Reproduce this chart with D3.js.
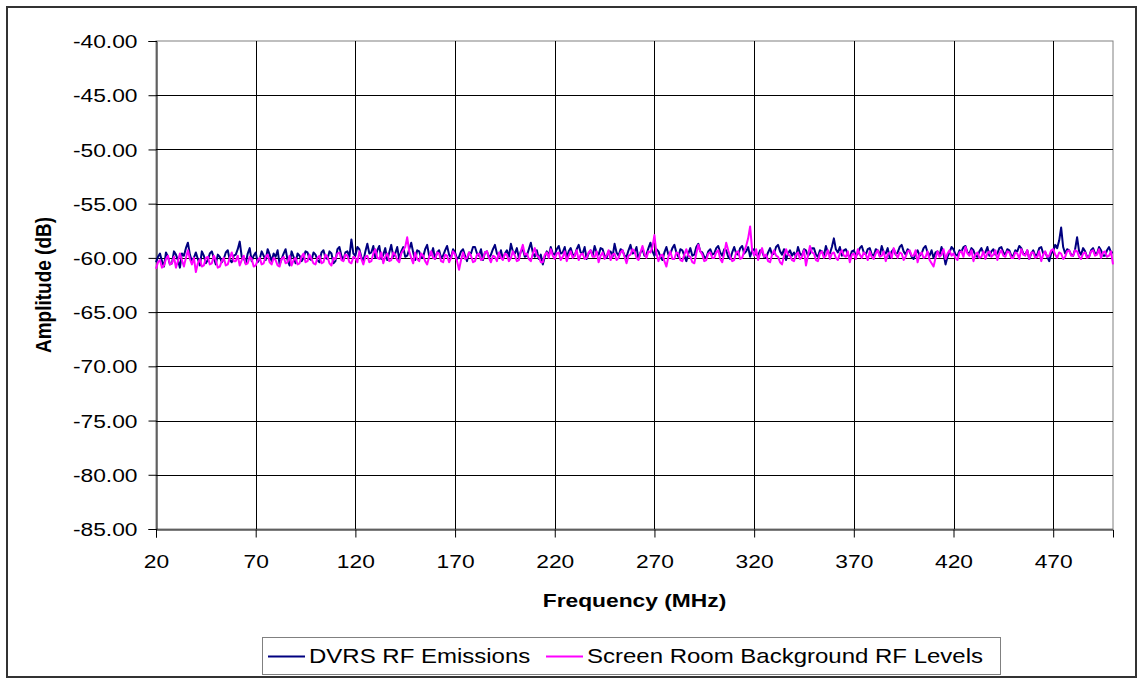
<!DOCTYPE html>
<html>
<head>
<meta charset="utf-8">
<script src="https://cdn.jsdelivr.net/npm/d3@7"></script>
<style>
  body { margin: 0; background: #fff; }
  text { font-family: "Liberation Sans", Arial, sans-serif; fill: #000; }
</style>
</head>
<body>
<script>
const W = 1143
const H = 679
const sx = 1.2 // text in the picture is stretched sideways

// one reading per MHz, 20 .. 500
const startFreq = 20
const stepFreq = 1

const dvrs = [
  -60.4,-59.9,-59.6,-60.3,-60.8,-59.5,-59.9,-60.6,-60.5,-59.4,-59.7,-60.2,-60.9,-59.6,-59.8,-59.1,-58.6,-59.7,-60.3,-60.0,
  -59.5,-60.1,-60.7,-59.4,-59.8,-60.5,-60.2,-59.6,-59.4,-60.0,-60.6,-59.7,-59.9,-60.4,-60.1,-59.5,-59.3,-60.2,-60.4,-59.8,
  -59.7,-59.2,-58.5,-59.9,-60.0,-60.5,-59.6,-59.1,-60.3,-59.8,-59.5,-60.4,-60.1,-59.4,-59.8,-60.2,-59.2,-59.7,-60.3,-59.6,
  -59.9,-59.3,-60.6,-60.1,-59.6,-59.2,-60.2,-60.7,-59.4,-59.9,-60.5,-59.6,-59.8,-60.3,-60.0,-59.4,-59.5,-60.1,-60.2,-59.5,
  -59.7,-60.2,-60.4,-59.5,-59.3,-60.0,-60.1,-59.4,-59.6,-60.5,-60.3,-59.2,-59.0,-59.8,-60.2,-59.5,-59.4,-59.9,-58.3,-59.6,
  -59.8,-59.0,-59.2,-59.9,-60.3,-59.4,-58.7,-59.6,-59.5,-58.9,-60.0,-59.3,-58.9,-60.1,-59.7,-59.1,-60.2,-59.5,-58.8,-59.9,
  -59.6,-59.0,-60.1,-59.4,-59.0,-59.9,-59.8,-59.2,-58.6,-59.5,-60.2,-59.3,-59.4,-60.0,-59.9,-59.2,-58.8,-59.8,-59.7,-59.1,
  -60.1,-59.5,-59.3,-60.0,-59.8,-59.3,-58.9,-59.7,-60.0,-59.2,-59.5,-60.1,-59.9,-59.4,-59.2,-59.8,-60.3,-59.5,-59.6,-59.0,
  -59.0,-59.6,-59.8,-59.2,-60.2,-59.5,-59.4,-60.0,-59.7,-59.2,-58.8,-59.6,-59.9,-59.3,-60.1,-59.6,-59.3,-59.9,-58.7,-59.4,
  -59.6,-59.1,-60.0,-59.4,-59.2,-59.9,-59.8,-59.2,-58.6,-59.5,-59.9,-59.3,-60.1,-59.7,-60.6,-59.9,-59.4,-59.8,-59.0,-59.6,
  -59.7,-59.2,-58.9,-59.6,-59.5,-59.0,-60.0,-59.4,-59.1,-59.7,-59.8,-59.2,-58.8,-59.5,-59.6,-59.0,-60.1,-59.6,-59.3,-59.8,
  -58.9,-59.5,-59.7,-59.1,-59.2,-59.8,-60.0,-59.4,-59.4,-59.9,-58.7,-59.5,-59.8,-59.2,-59.3,-59.8,-59.9,-59.3,-58.8,-59.6,
  -59.5,-59.0,-60.1,-59.5,-59.2,-59.8,-59.7,-59.1,-58.6,-59.4,-59.8,-59.2,-59.4,-59.9,-60.2,-59.5,-59.0,-59.7,-59.6,-59.1,
  -58.8,-59.5,-59.9,-59.2,-59.3,-59.8,-60.3,-59.6,-59.1,-59.8,-59.7,-59.0,-58.7,-59.4,-59.5,-59.9,-60.0,-59.4,-59.2,-59.7,
  -59.6,-59.1,-58.9,-59.5,-59.8,-59.2,-59.3,-59.9,-60.1,-59.5,-59.0,-59.6,-59.7,-59.1,-58.9,-59.6,-59.4,-59.0,-59.9,-59.3,
  -59.2,-59.7,-59.8,-59.3,-59.4,-59.9,-60.0,-59.5,-59.1,-59.7,-59.6,-59.0,-58.8,-59.4,-59.7,-59.2,-60.2,-59.6,-59.3,-59.8,
  -59.5,-59.9,-59.0,-59.6,-59.8,-59.2,-59.3,-59.8,-59.6,-59.1,-59.1,-59.7,-59.9,-59.3,-59.4,-59.8,-58.9,-59.5,-59.6,-59.0,
  -58.2,-59.2,-59.5,-59.0,-59.8,-59.3,-59.2,-59.7,-60.0,-59.4,-59.3,-59.8,-59.6,-59.1,-58.9,-59.5,-59.7,-59.2,-59.1,-59.7,
  -59.8,-59.2,-59.3,-59.8,-58.9,-59.5,-59.6,-59.1,-60.0,-59.4,-59.2,-59.7,-59.5,-59.0,-58.8,-59.4,-59.7,-59.2,-59.4,-59.9,
  -60.1,-59.6,-59.3,-59.8,-59.6,-59.1,-58.9,-59.5,-59.8,-59.3,-60.0,-59.5,-59.4,-59.8,-59.0,-59.6,-60.6,-59.9,-59.5,-59.0,
  -59.2,-59.7,-59.8,-59.3,-59.4,-59.0,-58.9,-59.5,-59.6,-59.1,-59.3,-59.8,-59.9,-59.4,-59.1,-59.6,-59.5,-59.0,-59.8,-59.4,
  -59.2,-59.7,-59.6,-59.1,-59.0,-59.5,-59.7,-59.2,-59.3,-59.8,-59.8,-59.3,-59.4,-58.9,-59.1,-59.6,-59.7,-59.3,-60.1,-59.6,
  -59.3,-59.8,-59.7,-59.1,-59.0,-59.6,-59.5,-59.9,-60.3,-59.6,-59.4,-58.8,-59.1,-58.4,-57.2,-59.0,-59.6,-59.2,-59.3,-59.7,
  -59.8,-59.2,-58.1,-59.4,-59.7,-59.1,-59.4,-59.9,-59.9,-59.3,-59.1,-59.6,-59.6,-59.0,-59.3,-59.8,-59.8,-59.3,-59.0,-59.5,
  -59.5
]

const background = [
  -61.0,-60.4,-60.2,-60.9,-60.7,-60.1,-59.8,-60.6,-60.5,-59.9,-60.9,-60.3,-59.6,-60.2,-60.8,-60.0,-59.3,-60.1,-60.6,-60.0,
  -61.3,-60.5,-60.1,-60.8,-60.7,-60.0,-59.9,-60.6,-60.5,-59.8,-60.2,-60.9,-60.8,-60.3,-60.0,-60.7,-60.6,-60.0,-59.5,-60.3,
  -60.3,-59.8,-60.7,-60.2,-59.8,-60.6,-60.5,-59.9,-60.1,-60.8,-60.7,-60.2,-60.0,-60.6,-60.5,-59.9,-59.7,-60.4,-60.6,-60.0,
  -60.2,-60.7,-60.8,-60.1,-59.9,-60.5,-60.4,-59.8,-60.7,-60.2,-60.0,-60.6,-60.5,-59.9,-59.6,-60.4,-60.3,-59.7,-60.1,-60.5,
  -60.6,-60.0,-59.8,-60.5,-60.4,-59.7,-59.9,-60.5,-60.7,-60.0,-60.1,-59.6,-59.5,-60.2,-60.3,-59.7,-59.8,-60.4,-60.5,-59.9,
  -60.0,-60.4,-59.4,-60.1,-60.6,-59.9,-59.8,-60.4,-60.3,-59.6,-59.2,-60.0,-60.1,-59.5,-60.5,-59.9,-59.6,-60.3,-60.2,-59.5,
  -59.7,-60.2,-60.4,-59.6,-59.3,-59.0,-58.1,-59.4,-60.0,-60.5,-59.5,-60.1,-60.3,-59.6,-59.8,-60.3,-60.6,-59.9,-59.4,-60.0,
  -60.1,-59.5,-59.6,-60.3,-60.4,-59.7,-59.8,-60.4,-60.0,-59.4,-59.7,-60.3,-61.1,-60.2,-59.5,-60.1,-60.0,-59.5,-59.8,-60.4,
  -60.3,-59.7,-59.6,-60.2,-60.1,-59.5,-59.4,-60.0,-60.4,-59.8,-59.9,-60.3,-59.5,-60.0,-60.2,-59.6,-59.7,-60.3,-60.0,-59.4,
  -59.8,-60.3,-60.2,-59.4,-58.8,-59.7,-59.6,-60.1,-60.3,-59.6,-59.1,-59.8,-59.9,-60.4,-60.4,-59.7,-59.5,-60.0,-59.2,-59.8,
  -60.1,-59.6,-59.5,-60.2,-59.9,-59.4,-60.3,-59.8,-59.4,-60.0,-59.8,-59.3,-60.2,-59.7,-59.6,-60.1,-60.0,-59.5,-59.3,-59.9,
  -59.9,-59.4,-60.4,-59.8,-59.5,-60.1,-59.8,-59.3,-60.2,-59.7,-59.6,-60.2,-60.0,-59.5,-59.3,-59.9,-60.5,-59.8,-59.7,-59.2,
  -59.4,-60.0,-60.2,-59.5,-58.9,-59.6,-60.0,-59.4,-59.5,-59.0,-57.9,-59.6,-60.3,-59.8,-59.7,-60.3,-60.8,-59.9,-59.4,-60.1,
  -60.1,-59.5,-59.6,-60.2,-60.3,-59.7,-59.2,-59.8,-59.9,-60.4,-60.5,-59.6,-58.8,-59.4,-59.7,-60.3,-60.2,-59.6,-59.5,-60.0,
  -60.0,-59.5,-59.3,-60.1,-60.4,-59.6,-58.6,-59.3,-59.9,-60.3,-60.2,-59.5,-59.4,-60.1,-60.0,-59.4,-58.9,-58.2,-57.1,-59.3,
  -59.8,-59.2,-60.2,-59.6,-59.1,-59.9,-59.7,-60.3,-60.4,-59.7,-59.3,-59.8,-59.9,-60.4,-60.6,-59.8,-59.2,-59.7,-59.8,-60.2,
  -60.3,-59.7,-59.5,-60.1,-59.9,-59.3,-60.7,-59.8,-58.9,-59.5,-59.6,-60.2,-60.3,-59.6,-59.4,-60.0,-59.8,-59.3,-60.1,-59.6,
  -59.5,-60.0,-60.2,-59.6,-59.3,-59.8,-59.9,-59.4,-60.4,-59.7,-59.6,-60.1,-59.2,-59.7,-60.0,-59.5,-59.7,-60.2,-59.4,-59.9,
  -60.1,-59.6,-59.3,-59.9,-59.8,-59.4,-60.3,-59.7,-59.5,-60.0,-59.1,-59.6,-60.0,-59.5,-59.6,-60.2,-59.9,-59.4,-59.3,-59.8,
  -59.8,-59.3,-60.4,-59.7,-59.5,-60.0,-59.9,-59.4,-60.2,-60.5,-60.8,-60.0,-59.4,-59.9,-59.7,-59.2,-60.1,-59.6,-59.3,-59.8,
  -59.6,-60.0,-60.2,-59.5,-59.4,-59.9,-59.0,-59.6,-59.8,-59.3,-60.3,-59.7,-59.5,-60.0,-59.9,-59.4,-60.1,-59.6,-59.4,-59.9,
  -59.7,-59.3,-60.2,-59.6,-59.3,-59.8,-59.9,-59.4,-59.5,-60.0,-60.0,-59.5,-59.6,-60.1,-59.2,-59.7,-59.8,-59.3,-60.1,-59.5,
  -59.5,-60.0,-59.9,-59.4,-60.3,-59.7,-59.4,-59.9,-59.8,-59.3,-59.2,-59.7,-60.0,-59.5,-59.6,-60.1,-59.9,-59.4,-59.3,-59.8,
  -59.8,-59.3,-59.4,-59.9,-60.1,-59.6,-59.5,-60.0,-59.9,-59.4,-59.3,-59.8,-59.7,-59.2,-60.0,-59.5,-59.4,-59.9,-59.8,-59.4,
  -60.6
]

const xTicks = [20, 70, 120, 170, 220, 270, 320, 370, 420, 470]
const yTicks = [-85, -80, -75, -70, -65, -60, -55, -50, -45, -40]

const seriesNames = ["DVRS RF Emissions", "Screen Room Background RF Levels"]
const seriesColors = ["#000080", "#ff00ff"]

const svg = d3.select("body").append("svg")
  .attr("width", W)
  .attr("height", H)

// outer chart border
svg.append("rect")
  .attr("x", 7).attr("y", 7)
  .attr("width", 1129).attr("height", 670)
  .attr("fill", "#fff")
  .attr("stroke", "#333")
  .attr("stroke-width", 2)

const x = d3.scaleLinear()
  .domain([20, 500])
  .range([156, 1113])

const y = d3.scaleLinear()
  .domain([-85, -40])
  .range([529, 41])

const plotL = x.range()[0], plotR = x.range()[1]
const plotT = y.range()[1], plotB = y.range()[0]

// plot frame
svg.append("rect")
  .attr("x", plotL).attr("y", plotT)
  .attr("width", plotR - plotL).attr("height", plotB - plotT)
  .attr("fill", "#fff")
  .attr("stroke", "#808080")

// grid
svg.append("g")
  .selectAll("line")
  .data(yTicks.slice(1, -1))
  .join("line")
  .attr("x1", plotL).attr("x2", plotR)
  .attr("y1", d => Math.round(y(d)) + 0.5)
  .attr("y2", d => Math.round(y(d)) + 0.5)
  .attr("stroke", "#000")

svg.append("g")
  .selectAll("line")
  .data(xTicks.slice(1))
  .join("line")
  .attr("x1", d => Math.round(x(d)) + 0.5)
  .attr("x2", d => Math.round(x(d)) + 0.5)
  .attr("y1", plotT).attr("y2", plotB)
  .attr("stroke", "#000")

// axes
const yAxis = svg.append("g")
  .attr("transform", `translate(${plotL + 0.5},0)`)
  .call(d3.axisLeft(y).tickValues(yTicks).tickSize(8).tickFormat(d => d.toFixed(2)))

const xAxis = svg.append("g")
  .attr("transform", `translate(0,${plotB + 0.5})`)
  .call(d3.axisBottom(x).tickValues(xTicks).tickSize(8))

for (const g of [yAxis, xAxis]) {
  g.select(".domain").attr("stroke", "#000")
  g.selectAll(".tick line").attr("stroke", "#000")
  g.selectAll("text")
    .attr("font-family", "Liberation Sans, Arial, sans-serif")
    .attr("font-size", 19)
    .attr("fill", "#000")
}

yAxis.selectAll(".tick text")
  .attr("x", 0).attr("dy", "0.35em")
  .attr("text-anchor", "end")
  .attr("transform", `translate(-19,0) scale(${sx},1)`)

xAxis.selectAll(".tick text")
  .attr("y", 0).attr("dy", 0)
  .attr("transform", `translate(0,38) scale(${sx},1)`)

// data lines
const freqs = dvrs.map((_, i) => startFreq + i * stepFreq)
const line = d3.line()
  .x((d, i) => x(freqs[i]))
  .y(d => y(d))

const plot = svg.append("g");
[dvrs, background].forEach((s, k) => {
  plot.append("path")
    .datum(s)
    .attr("d", line)
    .attr("fill", "none")
    .attr("stroke", seriesColors[k])
    .attr("stroke-width", 2)
    .attr("stroke-linejoin", "round")
})

// axis titles
svg.append("text")
  .attr("transform", `translate(${(plotL + plotR) / 2},607) scale(${sx},1)`)
  .attr("text-anchor", "middle")
  .attr("font-size", 19)
  .attr("font-weight", "bold")
  .text("Frequency (MHz)")

svg.append("text")
  .attr("transform", `translate(51,${(plotT + plotB) / 2}) scale(${sx},1) rotate(-90)`)
  .attr("text-anchor", "middle")
  .attr("font-size", 19)
  .attr("font-weight", "bold")
  .text("Amplitude (dB)")

// legend
const legend = svg.append("g")
legend.append("rect")
  .attr("x", 262.5).attr("y", 637.5)
  .attr("width", 738).attr("height", 37)
  .attr("fill", "#fff")
  .attr("stroke", "#808080")

const legendX = [268, 546]
seriesNames.forEach((name, k) => {
  const item = legend.append("g").attr("transform", `translate(${legendX[k]},0)`)
  item.append("line")
    .attr("x1", 0).attr("x2", 37)
    .attr("y1", 656.5).attr("y2", 656.5)
    .attr("stroke", seriesColors[k])
    .attr("stroke-width", 2)
  item.append("text")
    .attr("transform", `translate(41,663) scale(${sx},1)`)
    .attr("font-size", 20)
    .text(name)
})
</script>
</body>
</html>
